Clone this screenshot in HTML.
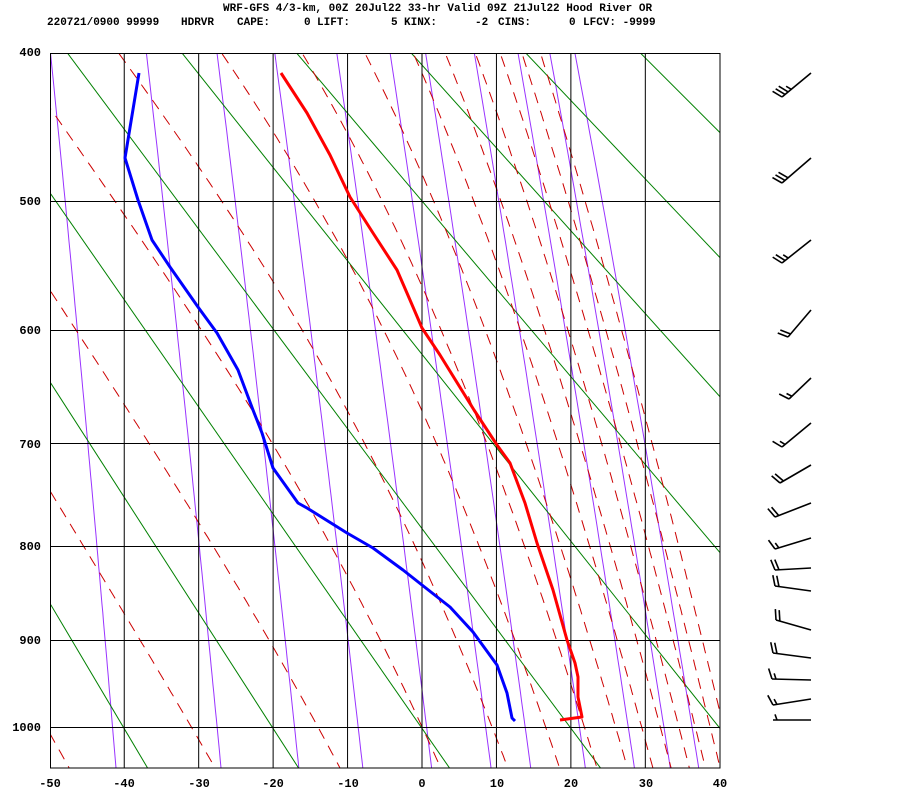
<!DOCTYPE html>
<html><head><meta charset="utf-8"><style>
html,body{margin:0;padding:0;background:#fff;}
svg{display:block;}
text{font-family:"Liberation Mono",monospace;}
</style></head><body>
<svg id="s" width="900" height="800" xmlns="http://www.w3.org/2000/svg">
<defs><clipPath id="c"><rect x="50" y="53" width="670" height="715"/></clipPath></defs>
<rect width="900" height="800" fill="#fff"/>
<g id="bg" clip-path="url(#c)"></g>
<g id="fg"></g>
<g font-size="11" font-weight="bold" fill="#000">
<text x="223" y="11">WRF-GFS 4/3-km, 00Z 20Jul22 33-hr Valid 09Z 21Jul22 Hood River OR</text>
<text x="47" y="25">220721/0900 99999</text>
<text x="181" y="25">HDRVR</text>
<text x="237" y="25">CAPE:</text>
<text x="304" y="25">0</text>
<text x="317" y="25">LIFT:</text>
<text x="391" y="25">5</text>
<text x="404" y="25">KINX:</text>
<text x="475" y="25">-2</text>
<text x="498" y="25">CINS:</text>
<text x="569" y="25">0</text>
<text x="583" y="25">LFCV: -9999</text>
</g>
<g font-size="12" font-weight="bold" fill="#000" text-anchor="end">
<text x="41" y="56">400</text>
<text x="41" y="205">500</text>
<text x="41" y="334">600</text>
<text x="41" y="448">700</text>
<text x="41" y="550">800</text>
<text x="41" y="644">900</text>
<text x="41" y="731">1000</text>
</g>
<g font-size="12" font-weight="bold" fill="#000" text-anchor="middle">
<text x="50" y="787">-50</text>
<text x="124" y="787">-40</text>
<text x="199" y="787">-30</text>
<text x="273" y="787">-20</text>
<text x="348" y="787">-10</text>
<text x="422" y="787">0</text>
<text x="497" y="787">10</text>
<text x="571" y="787">20</text>
<text x="646" y="787">30</text>
<text x="720" y="787">40</text>
</g>
</svg>
<script>
(function(){
var NS="http://www.w3.org/2000/svg",K=0.2857;
var bg=document.getElementById("bg"),fg=document.getElementById("fg");
function X(T){return 422+T*7.444;}
function Y(p){return 53+406.5*(Math.pow(p,K)-Math.pow(400,K));}
function el(par,tag,a){var e=document.createElementNS(NS,tag);for(var k in a)e.setAttribute(k,a[k]);par.appendChild(e);return e;}
function poly(par,pts,a){a.points=pts.map(function(q){return q[0].toFixed(1)+","+q[1].toFixed(1);}).join(" ");a.fill="none";return el(par,"polyline",a);}
[0.1,0.4,1,2,4,7,10,16,24,32,40].forEach(function(w){
  var pts=[];w/=1000;
  for(var p=390;p<=1060;p+=10){var e=w*p/(0.622+w);var l=Math.log(e/6.112);var Td=243.5*l/(17.67-l);pts.push([X(Td),Y(p)]);}
  poly(bg,pts,{stroke:"#9933ff","stroke-width":1});
});
for(var th=173;th<=553;th+=20){
  var t1=th*Math.pow(0.39,K)-273.15,t2=th*Math.pow(1.06,K)-273.15;
  el(bg,"line",{x1:X(t1),y1:Y(390),x2:X(t2),y2:Y(1060),stroke:"#008000","stroke-width":1});
}
function dTdp(T,p){var Tc=T-273.15;var es=6.112*Math.exp(17.67*Tc/(Tc+243.5));var rs=0.622*es/(p-es);
 return (287*T+2.5e6*rs)/(p*(1005+2.5e6*2.5e6*rs*0.622/(287*T*T)));}
[-50.5,-31,-14,0,9.4,16.6,21.8,26,29.5,32,34.5,36.7,38.7,40.5].forEach(function(T0){
  var up=[],T=T0+273.15,p=1000,dp=1;
  while(p>390){up.push([X(T-273.15),Y(p)]);T-=dTdp(T,p)*dp;p-=dp;}
  up.reverse();
  T=T0+273.15;p=1000;var dn=[];
  while(p<1060){p+=dp;T+=dTdp(T,p-dp/2)*dp;dn.push([X(T-273.15),Y(p)]);}
  var pts=up.concat(dn).filter(function(q,i){return i%4==0;});
  poly(bg,pts,{stroke:"#cc0000","stroke-width":1,"stroke-dasharray":"11,8"});
});
[-40,-30,-20,-10,0,10,20,30].forEach(function(t){el(fg,"line",{x1:X(t),y1:53,x2:X(t),y2:768,stroke:"#000","stroke-width":1});});
[500,600,700,800,900,1000].forEach(function(p){var y=Math.round(Y(p))+0.5;el(fg,"line",{x1:50,y1:y,x2:720,y2:y,stroke:"#000","stroke-width":1});});
el(fg,"rect",{x:50.5,y:53.5,width:669.5,height:714.5,fill:"none",stroke:"#000","stroke-width":1});
var red=[[281,73],[307,113],[330,155],[350,197],[373,233],[397,270],[410,300],[422,328],[440,355],[474,410],[497,445],[510,463],[525,503],[537,543],[553,590],[567,640],[575,663],[578,677],[578,697],[582,717],[560,720]];
var blue=[[139,73],[125,158],[138,200],[152,240],[170,267],[198,307],[217,333],[238,370],[253,410],[262,433],[273,468],[298,503],[307,508],[347,533],[373,548],[403,570],[422,585],[450,607],[473,632],[497,665],[507,693],[512,718],[515,721]];
poly(fg,red,{stroke:"#ff0000","stroke-width":3,"stroke-linejoin":"round"});
poly(fg,blue,{stroke:"#0000ff","stroke-width":3,"stroke-linejoin":"round"});
var W=[[811,73,782,97,3,1],[811,158,782,183,3,0],[811,240,782,263,2,1],[811,310,788,337,2,0],[811,378,789,399,1,1],[811,423,782,447,1,1],
[811,465,780,483,2,0],[811,503,775,517,2,0],[811,538,775,549,1,1],[811,568,775,570,2,0],[811,591,775,586,2,0],[811,630,776,620,2,0],[811,658,773,653,2,0],[811,680,772,679,1,1],[811,699,773,705,1,1],[811,720,773,720,0,1]];
W.forEach(function(b){
  var dx=b[2]-b[0],dy=b[3]-b[1],L=Math.hypot(dx,dy),ux=dx/L,uy=dy/L;
  var px=-uy,py=ux;
  var bx=px+0.35*ux,by=py+0.35*uy,bl=Math.hypot(bx,by);bx/=bl;by/=bl;
  el(fg,"line",{x1:b[0],y1:b[1],x2:b[2],y2:b[3],stroke:"#000","stroke-width":1.6});
  var k=0;
  for(var i=0;i<b[4];i++,k++){var sx=b[2]-ux*4*k,sy=b[3]-uy*4*k;el(fg,"line",{x1:sx,y1:sy,x2:sx+bx*11,y2:sy+by*11,stroke:"#000","stroke-width":1.6});}
  if(b[5]){if(k==0)k=1;var sx=b[2]-ux*4*k,sy=b[3]-uy*4*k;el(fg,"line",{x1:sx,y1:sy,x2:sx+bx*6,y2:sy+by*6,stroke:"#000","stroke-width":1.6});}
});
})();
</script>
</body></html>
